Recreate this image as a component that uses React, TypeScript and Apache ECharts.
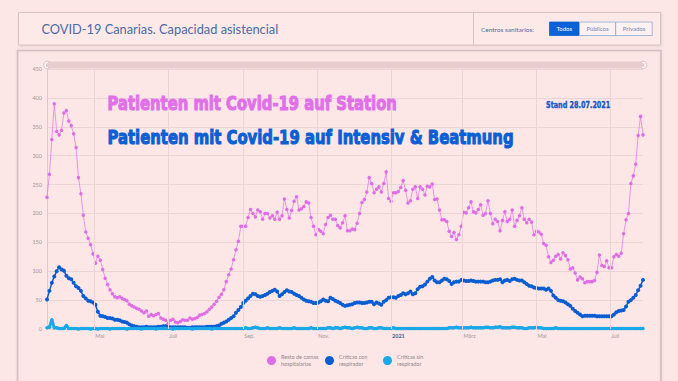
import React, { useEffect, useRef } from 'react';
import * as echarts from 'echarts';

const START_DATE = '2020-03-23';
const END_DATE = '2021-07-28';
const STEP_DAYS = 2;

const seriesNames = ['Resto de camas hospitalarias', 'Críticas con respirador', 'Críticas sin respirador'];
const legendLabels = ['Resto de camas\nhospitalarias', 'Críticas con\nrespirador', 'Críticas sin\nrespirador'];

// Resto de camas hospitalarias (every 2 days from START_DATE)
const stationValues = [
  228, 268, 328, 390, 342, 336, 344, 374, 378, 360,
  352, 338, 314, 262, 234, 197, 168, 157, 146, 130,
  114, 126, 119, 103, 88, 77, 68, 61, 56, 54,
  56, 53, 51, 49, 43, 40, 38, 36, 34, 31,
  28, 31, 22, 25, 23, 25, 27, 19, 17, 15,
  10, 15, 17, 12, 11, 13, 16, 15, 15, 19,
  17, 18, 20, 24, 25, 27, 30, 34, 38, 43,
  48, 55, 60, 68, 82, 94, 104, 120, 137, 152,
  178, 178, 178, 193, 207, 200, 194, 206, 203, 190,
  200, 200, 192, 196, 190, 202, 190, 196, 225, 207,
  192, 205, 221, 229, 206, 208, 212, 220, 218, 193,
  178, 163, 172, 169, 165, 181, 193, 197, 190, 190,
  179, 175, 184, 196, 170, 170, 173, 172, 183, 200,
  219, 224, 237, 262, 252, 236, 242, 246, 237, 252,
  272, 226, 221, 236, 236, 238, 245, 257, 240, 218,
  222, 242, 246, 226, 246, 242, 232, 247, 246, 251,
  224, 225, 206, 189, 189, 186, 169, 160, 167, 155,
  163, 178, 202, 201, 210, 220, 203, 201, 207, 215,
  197, 200, 222, 200, 182, 190, 186, 170, 188, 203,
  186, 190, 206, 178, 188, 196, 210, 190, 184, 190,
  185, 163, 169, 168, 164, 148, 145, 125, 115, 119,
  126, 129, 121, 132, 127, 120, 104, 106, 97, 85,
  90, 87, 80, 82, 82, 82, 84, 98, 128, 110,
  108, 118, 106, 106, 125, 129, 126, 131, 165, 189,
  200, 252, 265, 285, 335, 368, 336
];

// Críticas con respirador
const intensivValues = [
  51, 66, 80, 91, 100, 107, 103, 101, 92, 88,
  86, 80, 74, 71, 66, 57, 53, 49, 48, 46,
  42, 30, 23, 22, 21, 19, 19, 18, 16, 16,
  15, 13, 12, 11, 8, 6, 5, 4, 3, 3,
  3, 4, 3, 3, 3, 3, 4, 4, 5, 5,
  4, 3, 3, 3, 3, 3, 3, 3, 2, 2,
  3, 3, 3, 3, 3, 3, 4, 4, 4, 4,
  5, 6, 9, 11, 13, 16, 19, 22, 28, 33,
  38, 45, 49, 53, 57, 61, 60, 57, 56, 57,
  59, 61, 64, 66, 68, 65, 57, 60, 64, 67,
  65, 64, 61, 59, 57, 54, 51, 49, 48, 47,
  45, 45, 46, 48, 51, 49, 48, 54, 52, 49,
  47, 45, 42, 40, 41, 42, 43, 45, 46, 46,
  45, 45, 46, 47, 47, 43, 46, 44, 42, 47,
  50, 54, 55, 55, 54, 57, 59, 62, 60, 62,
  65, 60, 62, 69, 73, 74, 77, 82, 87, 90,
  84, 81, 81, 84, 87, 86, 83, 78, 81, 82,
  82, 85, 84, 83, 83, 84, 83, 82, 82, 82,
  82, 81, 81, 82, 84, 85, 85, 86, 81, 84,
  85, 83, 86, 87, 85, 84, 84, 81, 78, 75,
  74, 72, 71, 70, 70, 70, 68, 70, 66, 58,
  54, 50, 49, 48, 46, 43, 40, 35, 31, 28,
  25, 22, 23, 23, 23, 23, 23, 22, 22, 22,
  22, 22, 22, 22, 25, 29, 31, 32, 33, 39,
  47, 50, 54, 59, 67, 75, 85
];

// Críticas sin respirador
const sinRespValues = [
  2, 3, 16, 2, 2, 1, 1, 1, 6, 1,
  1, 1, 1, 0, 1, 1, 1, 1, 0, 1,
  1, 0, 1, 1, 1, 1, 0, 1, 1, 1,
  1, 1, 1, 0, 1, 1, 1, 1, 1, 0,
  1, 1, 1, 1, 1, 0, 1, 1, 1, 1,
  1, 1, 0, 1, 1, 1, 1, 1, 1, 1,
  0, 1, 1, 1, 1, 1, 1, 1, 0, 1,
  1, 1, 1, 1, 1, 1, 1, 1, 1, 1,
  1, 1, 2, 1, 1, 2, 3, 2, 1, 1,
  1, 2, 1, 1, 1, 1, 2, 1, 1, 1,
  1, 1, 2, 1, 1, 1, 1, 1, 1, 2,
  1, 1, 1, 1, 1, 1, 2, 2, 1, 2,
  2, 1, 2, 3, 2, 2, 1, 2, 3, 2,
  2, 1, 1, 2, 2, 1, 1, 2, 2, 1,
  1, 1, 1, 2, 1, 1, 1, 1, 1, 1,
  1, 1, 1, 1, 1, 1, 1, 1, 1, 1,
  1, 1, 1, 1, 1, 1, 2, 2, 2, 3,
  2, 2, 2, 2, 2, 3, 2, 2, 2, 2,
  2, 3, 3, 2, 2, 3, 3, 4, 2, 2,
  2, 2, 3, 3, 2, 2, 2, 1, 1, 2,
  2, 2, 3, 2, 2, 1, 1, 1, 1, 1,
  2, 1, 1, 1, 1, 1, 1, 1, 1, 1,
  1, 1, 1, 1, 1, 1, 1, 1, 1, 1,
  1, 1, 1, 1, 1, 1, 1, 1, 1, 1,
  1, 1, 1, 1, 1, 1, 1
];

const monthTickDates = ['2020-05-01', '2020-07-01', '2020-09-01', '2020-11-01', '2021-01-01', '2021-03-01', '2021-05-01', '2021-07-01'];
const monthTickLabels = ['Mai', 'Juli', 'Sep.', 'Nov.', '2021', 'März', 'Mai', 'Juli'];

const Y_MAX = 450;
const Y_INTERVAL = 50;

const COLORS = ['#df6de6', '#0a5dd1', '#19a8e8'];
const BG = '#fde6e6';
const GRID = '#eed3d6';
const FONT = 'Lato, "Noto Sans", sans-serif';

const DAY = 86400000;

function toSeriesData(values: number[]) {
  const t0 = Date.parse(START_DATE);
  return values.map((v, i) => [t0 + i * STEP_DAYS * DAY, v]);
}

export default function App() {
  const ref = useRef<HTMLDivElement>(null);

  useEffect(() => {
    document.body.style.margin = '0';
    if (!ref.current) return;
    const chart = echarts.init(ref.current, undefined, { renderer: 'svg' });

    const option: any = {
      animation: false,
      backgroundColor: BG,
      textStyle: { fontFamily: FONT },
      grid: { left: 47, right: 35, top: 69, bottom: 52 },
      xAxis: {
        type: 'time',
        min: Date.parse(START_DATE),
        max: Date.parse(END_DATE),
        axisLabel: { show: false },
        axisTick: { show: false },
        axisLine: { show: false },
        splitLine: { show: false },
      },
      yAxis: {
        type: 'value',
        min: 0,
        max: Y_MAX,
        interval: Y_INTERVAL,
        axisLabel: { fontSize: 5.5, color: '#9d9698', margin: 5, fontFamily: FONT },
        axisLine: { show: true, lineStyle: { color: '#e2c8cb', width: 1 } },
        axisTick: { show: false },
        splitLine: { lineStyle: { color: GRID, width: 1 } },
      },
      legend: {
        data: seriesNames,
        left: 262,
        top: 345,
        orient: 'horizontal',
        itemWidth: 9,
        itemHeight: 9,
        itemGap: 0,
        icon: 'circle',
        selectedMode: false,
        formatter: (name: string) => legendLabels[seriesNames.indexOf(name)],
        textStyle: { fontSize: 5.5, lineHeight: 7, color: '#8d8889', width: 44, padding: [7, 0, 0, 0], fontFamily: FONT },
      },
      series: [
        {
          name: 'monthGrid',
          type: 'line',
          data: [],
          z: 1,
          silent: true,
          markLine: {
            silent: true,
            symbol: 'none',
            label: { show: false },
            emphasis: { disabled: true },
            lineStyle: { color: GRID, type: 'solid', width: 1 },
            data: monthTickDates.map((d) => ({ xAxis: Date.parse(d) })),
          },
        },
        {
          name: seriesNames[0],
          type: 'line',
          data: toSeriesData(stationValues),
          symbol: 'circle',
          symbolSize: 3.5,
          itemStyle: { color: COLORS[0] },
          lineStyle: { color: COLORS[0], width: 0.8, opacity: 0.85 },
          z: 2,
        },
        {
          name: seriesNames[1],
          type: 'line',
          data: toSeriesData(intensivValues),
          symbol: 'circle',
          symbolSize: 4,
          itemStyle: { color: COLORS[1] },
          lineStyle: { color: COLORS[1], width: 1.5 },
          z: 3,
        },
        {
          name: seriesNames[2],
          type: 'line',
          data: toSeriesData(sinRespValues),
          symbol: 'circle',
          symbolSize: 3.5,
          itemStyle: { color: COLORS[2] },
          lineStyle: { color: COLORS[2], width: 3 },
          z: 4,
        },
      ],
    };

    chart.setOption(option);

    const axisY = chart.convertToPixel({ yAxisIndex: 0 }, 0) as number;
    const topY = chart.convertToPixel({ yAxisIndex: 0 }, Y_MAX) as number;
    const leftX = chart.convertToPixel({ xAxisIndex: 0 }, Date.parse(START_DATE)) as number;
    const rightX = chart.convertToPixel({ xAxisIndex: 0 }, Date.parse(END_DATE)) as number;

    const tickLabels = monthTickDates.map((d, i) => {
      const px = chart.convertToPixel({ xAxisIndex: 0 }, Date.parse(d)) as number;
      const isYear = monthTickLabels[i] === '2021';
      return {
        type: 'text',
        x: px + 1,
        y: axisY + 6.5,
        z: 50,
        silent: true,
        style: {
          text: monthTickLabels[i],
          fill: isYear ? '#4e5e8c' : '#9d9698',
          font: `${isYear ? 'bold ' : ''}5.5px ${FONT}`,
          align: 'left',
          verticalAlign: 'middle',
          textAlign: 'left',
          textVerticalAlign: 'middle',
        },
      };
    });

    const grip = (cx: number, cy: number) => ({
      type: 'group',
      x: cx,
      y: cy,
      z: 60,
      silent: true,
      children: [
        { type: 'circle', shape: { cx: 0, cy: 0, r: 3.8 }, style: { fill: '#fff6f6', stroke: '#cdb8bb', lineWidth: 0.8 } },
        { type: 'line', shape: { x1: -0.8, y1: -1.6, x2: -0.8, y2: 1.6 }, style: { stroke: '#9c9093', lineWidth: 0.6 } },
        { type: 'line', shape: { x1: 0.8, y1: -1.6, x2: 0.8, y2: 1.6 }, style: { stroke: '#9c9093', lineWidth: 0.6 } },
      ],
    });

    const textStyle = (text: string, fill: string, font: string, align = 'left', vAlign = 'middle', stroke?: string, strokeWidth = 0) => {
      const s: any = {
        text,
        fill,
        font,
        align,
        verticalAlign: vAlign,
        textAlign: align,
        textVerticalAlign: vAlign,
      };
      if (stroke) {
        s.stroke = stroke;
        s.lineWidth = strokeWidth;
      }
      return s;
    };

    const graphic: any[] = [
      // header box
      { type: 'rect', z: 5, silent: true, shape: { x: 18.5, y: 12.5, width: 642, height: 32.5 }, style: { fill: '#fee9e9', stroke: '#d6c3c5', lineWidth: 1, shadowBlur: 2, shadowColor: 'rgba(120,90,90,0.18)', shadowOffsetX: 1, shadowOffsetY: 1 } },
      { type: 'line', z: 6, silent: true, shape: { x1: 473.5, y1: 13, x2: 473.5, y2: 45 }, style: { stroke: '#d6c3c5', lineWidth: 1 } },
      // coat of arms icon
      {
        type: 'group', x: 25, y: 21, z: 7, silent: true,
        children: [
          { type: 'polygon', shape: { points: [[0.5, 5], [1, 1.5], [2.5, 3], [4, 0], [5.5, 3], [7, 1.5], [7.5, 5]] }, style: { fill: '#2a58a8' } },
          { type: 'rect', shape: { x: 0.5, y: 5.5, width: 7, height: 9, r: [0, 0, 3.5, 3.5] }, style: { fill: '#2a58a8' } },
          { type: 'line', shape: { x1: 2, y1: 8, x2: 6, y2: 8 }, style: { stroke: '#c9d6f0', lineWidth: 0.6 } },
          { type: 'line', shape: { x1: 2, y1: 10.5, x2: 6, y2: 10.5 }, style: { stroke: '#c9d6f0', lineWidth: 0.6 } },
        ],
      },
      { type: 'text', x: 41.5, y: 28.5, z: 7, silent: true, style: textStyle('COVID-19 Canarias. Capacidad asistencial', '#4b69a7', `12.8px ${FONT}`) },
      { type: 'text', x: 481, y: 29, z: 7, silent: true, style: textStyle('Centros sanitarios:', '#4b69a7', `6.5px ${FONT}`) },
      // buttons
      { type: 'rect', z: 7, silent: true, shape: { x: 549.5, y: 22, width: 29.5, height: 13.5 }, style: { fill: '#0b61d6', stroke: '#0b61d6', lineWidth: 0.8 } },
      { type: 'text', x: 564.2, y: 28.8, z: 8, silent: true, style: textStyle('Todos', '#ffffff', `6px ${FONT}`, 'center') },
      { type: 'rect', z: 7, silent: true, shape: { x: 579.5, y: 22, width: 36, height: 13.5 }, style: { fill: '#fef1f1', stroke: '#8fa8d8', lineWidth: 0.8 } },
      { type: 'text', x: 597.5, y: 28.8, z: 8, silent: true, style: textStyle('Públicos', '#6d86b8', `6px ${FONT}`, 'center') },
      { type: 'rect', z: 7, silent: true, shape: { x: 615.7, y: 22, width: 36.5, height: 13.5 }, style: { fill: '#fef1f1', stroke: '#8fa8d8', lineWidth: 0.8 } },
      { type: 'text', x: 634, y: 28.8, z: 8, silent: true, style: textStyle('Privados', '#6d86b8', `6px ${FONT}`, 'center') },
      // chart panel border
      { type: 'rect', z: 0, silent: true, shape: { x: 17.5, y: 50.5, width: 643.5, height: 345 }, style: { fill: 'none', stroke: '#d4bfc2', lineWidth: 1.6, shadowBlur: 2, shadowColor: 'rgba(120,90,90,0.15)' } },
      // scrollbar
      { type: 'rect', z: 55, silent: true, shape: { x: leftX, y: topY - 7.5, width: rightX - leftX, height: 7, r: 3.5 }, style: { fill: '#e8cdd0' } },
      grip(leftX + 0.5, topY - 4),
      grip(rightX, topY - 4),
      // annotations
      { type: 'text', x: 107.5, y: 103, scaleX: 0.74, z: 70, silent: true, style: textStyle('Patienten mit Covid-19 auf Station', '#e070e8', 'bold 20px "DejaVu Sans"', 'left', 'middle', '#e070e8', 1.1) },
      { type: 'text', x: 107.5, y: 137, scaleX: 0.742, z: 70, silent: true, style: textStyle('Patienten mit Covid-19 auf Intensiv & Beatmung', '#0b5fd3', 'bold 20px "DejaVu Sans"', 'left', 'middle', '#0b5fd3', 1.1) },
      { type: 'text', x: 546, y: 104.2, scaleX: 0.68, z: 70, silent: true, style: textStyle('Stand 28.07.2021', '#1659c6', 'bold 9.5px "DejaVu Sans"', 'left', 'middle', '#1659c6', 0.4) },
      ...tickLabels,
    ];

    chart.setOption({ graphic });

    return () => {
      chart.dispose();
    };
  }, []);

  return <div ref={ref} style={{ width: 678, height: 381 }} />;
}
